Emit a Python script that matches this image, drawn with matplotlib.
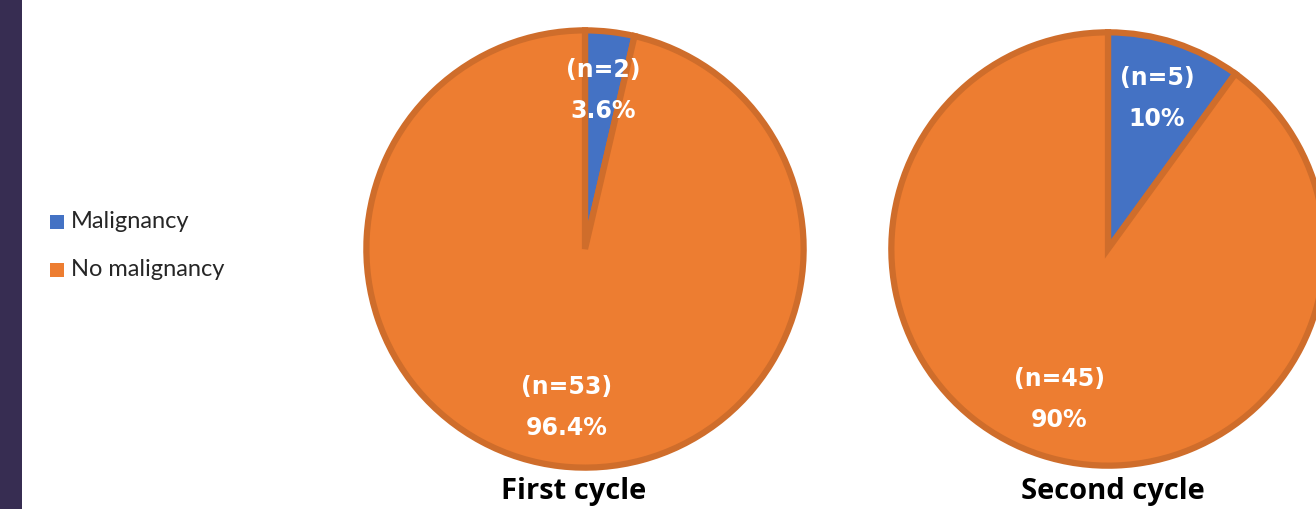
import matplotlib
matplotlib.use("Agg")
import matplotlib.pyplot as plt
from matplotlib.patches import Rectangle
import numpy as np

# counts per cycle: malignancy, no malignancy
categories = ["Malignancy", "No malignancy"]
first_cycle = [2, 53]
second_cycle = [5, 45]
cycle_titles = ["First cycle", "Second cycle"]

colors = ["#4472C4", "#ED7D31"]
edge = "#CF6D2B"

W, H = 1316, 509
fig = plt.figure(figsize=(W / 100, H / 100), dpi=100)
fig.patch.set_facecolor("white")

# dark strip on the left
fig.patches.append(Rectangle((0, 0), 22 / W, 1, transform=fig.transFigure,
                             facecolor="#372D52", edgecolor="none", zorder=0))


def fmt_pct(v):
    s = f"{v:.1f}"
    return s[:-2] if s.endswith(".0") else s


def draw_pie(cx, cy, r, counts, title, title_x):
    ax = fig.add_axes([(cx - r) / W, (H - cy - r) / H, 2 * r / W, 2 * r / H])
    total = sum(counts)
    wedges, _ = ax.pie(counts, colors=colors, startangle=90, counterclock=False,
                       radius=1.0, wedgeprops=dict(edgecolor=edge, linewidth=4.5))
    for w, n in zip(wedges, counts):
        mid = np.deg2rad((w.theta1 + w.theta2) / 2)
        d = 0.73
        ax.text(d * np.cos(mid), d * np.sin(mid),
                f"(n={n})\n{fmt_pct(100 * n / total)}%",
                ha="center", va="center", color="white", fontsize=17,
                fontweight="bold", linespacing=1.85)
    ax.set_xlim(-1.02, 1.02)
    ax.set_ylim(-1.02, 1.02)
    ax.axis("off")
    fig.text(title_x / W, (H - 492) / H, title, ha="center", va="center",
             fontsize=21, fontweight="bold", family="Open Sans", color="black")


draw_pie(585, 249, 223, first_cycle, cycle_titles[0], 574)
draw_pie(1108, 249, 221, second_cycle, cycle_titles[1], 1113)

# legend
for i, (lab, c) in enumerate(zip(categories, colors)):
    y = 222 + i * 48
    fig.patches.append(Rectangle((50 / W, (H - y - 7) / H), 14 / W, 14 / H,
                                 transform=fig.transFigure, facecolor=c,
                                 edgecolor="none"))
    fig.text(71 / W, (H - y) / H, lab, ha="left", va="center", fontsize=17,
             family="Lato", color="#262626")

fig.savefig("out.png", dpi=100)
